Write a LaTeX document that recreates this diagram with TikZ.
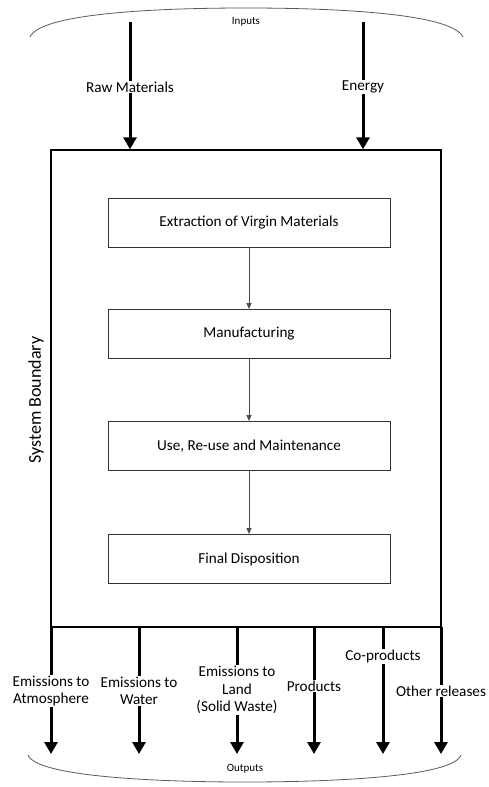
\documentclass[tikz,border=0pt]{standalone}
\usepackage{fontspec}
\setmainfont{Carlito}
\usepackage{xcolor}
\usetikzlibrary{arrows.meta, calc, positioning}
\definecolor{arcgray}{RGB}{90, 90, 90}

\begin{document}
\begin{tikzpicture}[x=1pt, y=-1pt,
    stage/.style={draw=black!80, line width=0.9pt, minimum width=282pt, minimum height=49pt, font=\fontsize{15.2}{17}\selectfont},
    flow/.style={line width=3pt, -{Triangle[width=13pt, length=12pt]}},
    thinflow/.style={draw=black!70, line width=0.8pt, -{Triangle[width=5pt, length=6pt]}},
    lbl/.style={fill=white, inner sep=1pt, align=center, font=\fontsize{15.2}{17.5}\selectfont},
    small/.style={font=\fontsize{11}{13}\selectfont}]
    \useasboundingbox (0,0) rectangle (488,787);

    % System boundary
    \node[draw, line width=1.4pt, minimum width=390pt, minimum height=477pt] (sys) at (246,388.5) {};
    \node[rotate=90, font=\fontsize{18}{20}\selectfont] (sysname) at (36,400) {System Boundary};

    % Stages
    \node[stage] (extract) at (249,222.5) {Extraction of Virgin Materials};
    \node[stage] (manuf) at (249,334) {Manufacturing};
    \node[stage] (use) at (249,446) {Use, Re-use and Maintenance};
    \node[stage] (final) at (249,559) {Final Disposition};
    \draw[thinflow] (extract) -- (manuf);
    \draw[thinflow] (manuf) -- (use);
    \draw[thinflow] (use) -- (final);

    % Inputs
    \draw[arcgray, line width=0.8pt] (30,37) .. controls (40,14) and (150,8) .. (246,8)
        .. controls (342,8) and (452,14) .. (463,37);
    \node[small] (inputs) at (246,22) {Inputs};
    \coordinate (rawtop) at (130,22);
    \coordinate (entop) at (363,22);
    \draw[flow] (rawtop) -- (rawtop |- sys.north);
    \draw[flow] (entop) -- (entop |- sys.north);
    \node[lbl] (raw) at (130,87) {Raw Materials};
    \node[lbl] (energy) at (363,87) {Energy};

    % Outputs
    \draw[arcgray, line width=0.8pt] (28,755) .. controls (36,776) and (150,782) .. (245,782)
        .. controls (340,782) and (454,776) .. (461,755);
    \node[small] (outputs) at (245,769) {Outputs};
    \foreach \name/\xx/\yy/\txt in {atm/51/691/{Emissions to\\Atmosphere},
        water/139/691/{Emissions to\\Water},
        land/237/690/{Emissions to\\Land\\(Solid Waste)},
        prod/314/686/{Products},
        coprod/383/656/{Co-products},
        other/441/691/{Other releases}} {
        \coordinate (\name top) at (\xx,627);
        \coordinate (\name end) at (\xx,754);
        \draw[flow] (\name top) -- (\name end);
        \node[lbl] (\name) at (\xx,\yy) {\txt};
    }
\end{tikzpicture}
\end{document}
